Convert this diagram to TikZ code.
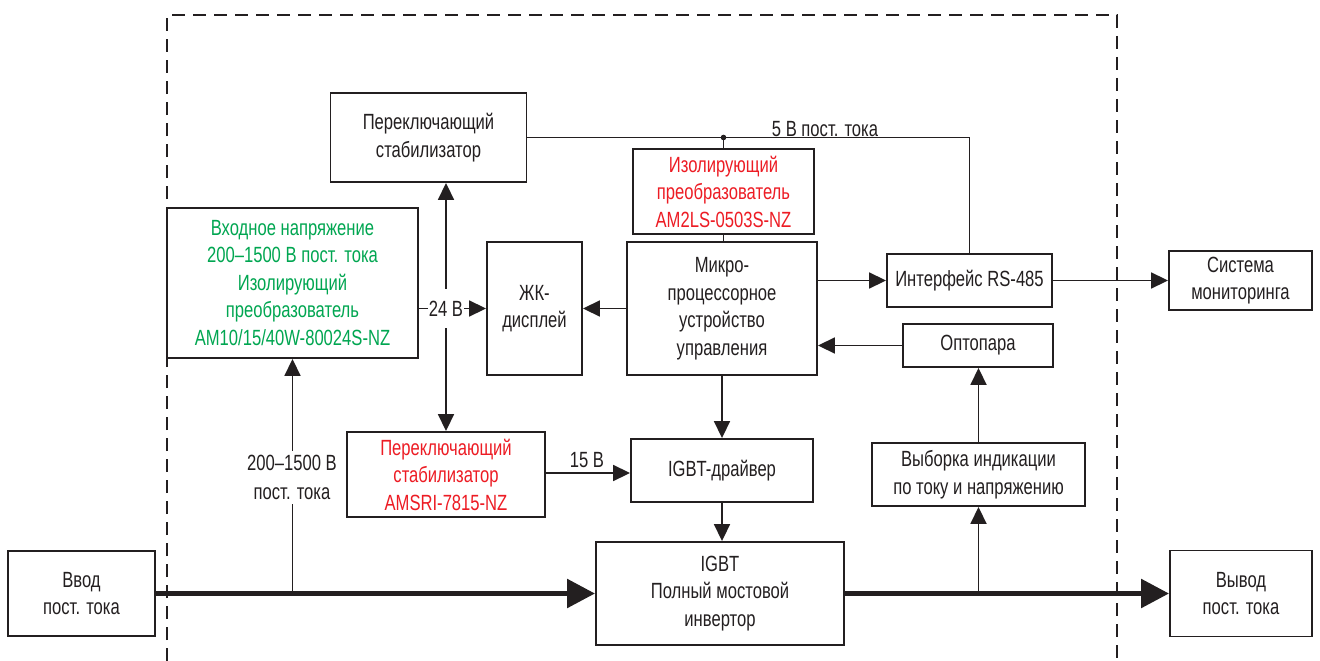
\documentclass[tikz,border=0pt]{standalone}
\usepackage{fontspec}
\setmainfont{Liberation Sans}[FakeStretch=0.755]
\usetikzlibrary{arrows.meta}
\definecolor{grn}{RGB}{0,166,81}
\definecolor{rd}{RGB}{237,28,36}
\definecolor{ink}{RGB}{35,31,32}
\begin{document}
\begin{tikzpicture}[x=1pt,y=-1pt,
  box/.style={draw=ink, line width=1.9pt, fill=white, inner sep=0pt, align=center, text=ink,
    font=\fontsize{22}{27.5}\selectfont},
  lbl/.style={inner sep=0pt, align=center, text=ink, font=\fontsize{22}{29}\selectfont},
  conn/.style={draw=ink, line width=1.8pt},
  arr/.style={conn, -{Triangle[length=17pt,width=16pt]}},
  darr/.style={conn, {Triangle[length=17pt,width=16pt]}-{Triangle[length=17pt,width=16pt]}},
  thick arr/.style={draw=ink, line width=5.5pt, -{Triangle[length=28pt,width=28pt]}},
  border/.style={draw=ink, line width=2.6pt, dash pattern=on 13pt off 8pt}
]
\useasboundingbox (0,0) rectangle (1320,661);
\fill[white] (0,0) rectangle (1320,661);

% dashed enclosure
\draw[border] (167,661) -- (167,15) -- (1117,15) -- (1117,661);

% boxes
\node[box, minimum width=196pt, minimum height=89pt] (stab1) at (428.5,137.5) {Переключающий\\стабилизатор};
\node[box, minimum width=251pt, minimum height=150pt, text=grn] (green) at (292.5,283) {Входное напряжение\\200–1500 В пост. тока\\Изолирующий\\преобразователь\\AM10/15/40W-80024S-NZ};
\node[box, minimum width=181pt, minimum height=85pt, text=rd] (iso) at (723.5,191.5) {Изолирующий\\преобразователь\\AM2LS-0503S-NZ};
\node[box, minimum width=95pt, minimum height=133pt] (lcd) at (534.5,308.5) {ЖК-\\дисплей};
\node[box, minimum width=190pt, minimum height=133pt] (mcu) at (722,308.5) {Микро-\\процессорное\\устройство\\управления};
\node[box, minimum width=165pt, minimum height=53pt] (rs) at (969.5,280.5) {Интерфейс RS-485};
\node[box, minimum width=143pt, minimum height=59pt] (mon) at (1240.5,280.5) {Система\\мониторинга};
\node[box, minimum width=150pt, minimum height=43pt] (opto) at (978,345.5) {Оптопара};
\node[box, minimum width=198pt, minimum height=85pt, text=rd] (stab2) at (446,474.5) {Переключающий\\стабилизатор\\AMSRI-7815-NZ};
\node[box, minimum width=182pt, minimum height=63pt] (drv) at (722,470.5) {IGBT-драйвер};
\node[box, minimum width=213pt, minimum height=63pt] (smp) at (978.5,474.5) {Выборка индикации\\по току и напряжению};
\node[box, minimum width=248pt, minimum height=103pt] (igbt) at (720,593.5) {IGBT\\Полный мостовой\\инвертор};
\node[box, minimum width=147pt, minimum height=85pt] (in) at (81.5,593.5) {Ввод\\пост. тока};
\node[box, minimum width=142pt, minimum height=86pt] (out) at (1241,593.5) {Вывод\\пост. тока};

% 5 V supply line
\coordinate (j5) at (iso.north |- stab1.east);
\draw[conn] (stab1.east) -| (rs.north);
\draw[conn] (iso.north) -- (j5);
\fill[ink] (j5) circle (2.8pt);
\node[lbl] (l5) at (825,129) {5 В пост. тока};
\draw[conn] (iso.south) -- (iso.south |- mcu.north);

% 24 V distribution
\draw[darr] (stab2.north) -- (stab2.north |- stab1.south);
\draw[arr] (lcd.west -| green.east) -- (lcd.west);
\node[lbl, fill=white, minimum height=39pt, inner xsep=1pt] (l24) at (stab2.north |- lcd.west) {24 В};

% MCU links
\draw[arr] (mcu.west) -- (lcd.east);
\draw[arr] (rs.west -| mcu.east) -- (rs.west);
\draw[arr] (rs.east) -- (mon.west);
\draw[arr] (opto.west) -- (opto.west -| mcu.east);
\draw[arr] (mcu.south) -- (mcu.south |- drv.north);
\draw[arr] (drv.south) -- (drv.south |- igbt.north);
\draw[arr] (smp.north) -- (smp.north |- opto.south);

% 15 V
\draw[arr] (stab2.east |- 0,473) -- (drv.west |- 0,473);
\node[lbl] (l15) at (587,460) {15 В};

% power path
\coordinate (jin) at (green.south |- in.east);
\coordinate (jout) at (smp.south |- out.west);
\draw[arr] (jin) -- (green.south);
\node[lbl, fill=white, inner ysep=4pt] (l200) at (292,477.5) {200–1500 В\\пост. тока};
\draw[arr] (jout) -- (smp.south);
\draw[thick arr] (in.east) -- (igbt.west);
\draw[thick arr] (igbt.east) -- (out.west);
\end{tikzpicture}
\end{document}
